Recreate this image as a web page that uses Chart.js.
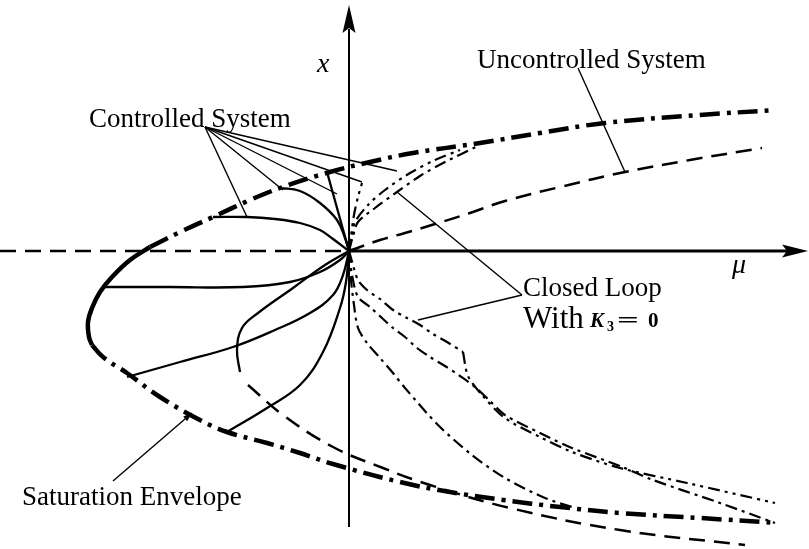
<!DOCTYPE html>
<html>
<head>
<meta charset="utf-8">
<title>Saturation envelope and controlled bifurcation</title>
<script src="https://cdn.jsdelivr.net/npm/chart.js@4/dist/chart.umd.min.js"></script>
<style>
  html, body { margin: 0; padding: 0; background: #fff; }
  #wrap { width: 809px; height: 549px; }
</style>
</head>
<body>
<div id="wrap"><canvas id="c" width="809" height="549"></canvas></div>
<script>
// Plane (mu, x). Plot window in mu/x units.
const MU_RANGE = [-3.49, 4.60];
const X_RANGE = [-2.98, 2.51];

// Saturation envelope: thick solid nose, dash-dot branches
const envelopeUpper = [[-1.99,0.04],[-1.69,0.19],[-1.36,0.34],[-0.99,0.51],[-0.69,0.63],[-0.19,0.79],[0.21,0.89],[0.64,0.98],[1.31,1.08],[1.91,1.18],[2.56,1.28],[3.51,1.36],[4.26,1.41]];
const envelopeNose = [[-1.99,0.04],[-2.19,-0.09],[-2.37,-0.26],[-2.49,-0.41],[-2.57,-0.57],[-2.61,-0.71],[-2.60,-0.86],[-2.57,-0.94]];
const envelopeLower = [[-2.57,-0.94],[-2.46,-1.06],[-2.22,-1.22],[-1.89,-1.46],[-1.49,-1.69],[-1.22,-1.81],[-0.82,-1.92],[-0.49,-2.02],[-0.16,-2.13],[0.51,-2.31],[1.01,-2.41],[1.54,-2.49],[2.11,-2.56],[2.71,-2.62],[3.51,-2.67],[4.28,-2.72]];

// Uncontrolled system (dashed)
const uncontrolledLeft = [[-3.49,0],[0,0]];
const uncontrolledUpper = [[0,0],[0.11,0.04],[0.31,0.11],[0.56,0.18],[0.86,0.27],[1.21,0.38],[1.56,0.50],[2.11,0.64],[2.76,0.79],[3.41,0.91],[4.13,1.03]];
const uncontrolledLower = [[-1.01,-1.34],[-0.66,-1.64],[-0.16,-1.96],[0.34,-2.17],[0.81,-2.34],[1.61,-2.57],[2.71,-2.79],[3.96,-2.94]];

// Controlled system trajectories (solid), all ending at the origin
const ctrlA = [[-1.36,0.34],[-1.02,0.34],[-0.74,0.32],[-0.49,0.28],[-0.29,0.21],[-0.16,0.12],[0,0]];
const ctrlB = [[-0.69,0.63],[-0.49,0.60],[-0.29,0.48],[-0.12,0.31],[-0.04,0.13],[0,0]];
const ctrlD = [[-0.22,0.79],[0,0]];
const ctrlE = [[-2.46,-0.36],[-1.79,-0.36],[-1.06,-0.36],[-0.59,-0.31],[-0.29,-0.21],[-0.09,-0.09],[0,0]];
const ctrlF = [[-2.22,-1.26],[-1.69,-1.11],[-1.16,-0.96],[-0.74,-0.79],[-0.39,-0.62],[-0.16,-0.44],[-0.06,-0.24],[0,0]];
const ctrlG = [[-1.09,-1.21],[-1.12,-0.99],[-1.07,-0.77],[-0.91,-0.62],[-0.56,-0.37],[-0.24,-0.14],[0,0]];
const ctrlH = [[-1.22,-1.81],[-0.82,-1.57],[-0.49,-1.34],[-0.26,-1.01],[-0.09,-0.57],[-0.03,-0.31],[0,0]];

// Closed loop with K3 = 0
const loopL1a = [[0,0],[0.04,-0.14],[0.09,-0.29],[0.18,-0.39],[0.31,-0.48],[0.44,-0.59],[0.58,-0.67],[0.71,-0.74],[0.84,-0.83],[0.98,-0.91],[1.14,-1.01]];
const loopL1b = [[1.14,-1.01],[1.19,-1.25],[1.33,-1.44],[1.56,-1.67],[1.91,-1.86],[2.23,-2.01],[2.71,-2.17],[3.38,-2.32],[4.26,-2.52]];
const loopL2 = [[0,0],[0.03,-0.24],[0.09,-0.46],[0.21,-0.56],[0.33,-0.67],[0.44,-0.77],[0.56,-0.86],[0.68,-0.97],[0.81,-1.06],[0.96,-1.15],[1.11,-1.25],[1.26,-1.36],[1.41,-1.50],[1.56,-1.64],[1.91,-1.82],[2.23,-1.97],[2.71,-2.15],[3.04,-2.29],[3.71,-2.52],[4.26,-2.72]];
const loopL3 = [[0,0],[0.02,-0.29],[0.05,-0.54],[0.09,-0.77],[0.18,-0.92],[0.31,-1.07],[0.44,-1.22],[0.56,-1.37],[0.89,-1.74],[1.23,-2.04],[1.56,-2.27],[1.96,-2.47],[2.26,-2.57]];
const loopUa = [[0,0],[0.03,0.16],[0.06,0.29],[0.19,0.46],[0.36,0.61],[0.61,0.78],[0.86,0.91],[1.11,1.01]];
const loopUb = [[0,0],[0.04,0.15],[0.09,0.29],[0.26,0.43],[0.48,0.59],[0.71,0.75],[0.96,0.89],[1.29,1.05]];
const loopUc = [[0,0],[0.02,0.15],[0.05,0.36],[0.09,0.54],[0.13,0.68]];

// Axes
const muAxis = [[0,0],[4.38,0]];
const xAxis = [[0,-2.76],[0,2.22]];
const muArrowTip = [4.59, 0];
const xArrowTip = [0, 2.46];

// Label leaders
const ctrlLeaderFrom = [-1.44,1.24];
const ctrlLeaderTo = [[-1.02,0.34],[-0.66,0.61],[-0.12,0.57],[0.13,0.69],[0.48,0.80]];
const uncLeader = [[2.29,1.83],[2.76,0.79]];
const loopLeaderFrom = [1.73,-0.44];
const loopLeaderTo = [[0.48,0.59],[0.69,-0.69]];
const satLeader = [[-2.36,-2.30],[-1.57,-1.62]];

// Text labels: [text, mu, x, font, horizontal stretch]
const labels = [
  ['Controlled System', -2.60, 1.24, '27px "Liberation Serif", serif', 1],
  ['Uncontrolled System', 1.28, 1.83, '27px "Liberation Serif", serif', 1],
  ['Closed Loop', 1.74, -0.45, '27px "Liberation Serif", serif', 1],
  ['With', 1.74, -0.77, '31px "Liberation Serif", serif', 1],
  ['Saturation Envelope', -3.27, -2.54, '27px "Liberation Serif", serif', 1],
  ['x', -0.32, 1.79, 'italic 28px "Liberation Serif", serif', 1],
  ['\u03bc', 3.83, -0.22, 'italic 28px "Liberation Serif", serif', 1]
];
// K3 = 0 pieces
const gainParts = [
  ['K', 2.41, -0.76, 'bold italic 21px "Liberation Serif", serif', 1],
  ['3', 2.58, -0.80, 'bold 14px "Liberation Serif", serif', 1],
  ['=', 2.68, -0.755, 'bold 22px "Liberation Serif", serif', 1.75],
  ['0', 2.99, -0.76, 'bold 21px "Liberation Serif", serif', 1]
];

const pts = a => a.map(([x, y]) => ({ x, y }));
const BLACK = '#000';
const DASH = [16, 9];
const DASH_DOT = [12, 5, 3, 5];
const DASH_DOT_DOT = [12, 5, 3, 5, 3, 5];
const ENV_DASH = [20, 7, 4, 7];

function line(data, width, dash, tension) {
  return {
    data: pts(data), showLine: true, borderColor: BLACK, backgroundColor: BLACK,
    borderWidth: width, borderDash: dash || [], tension: tension || 0,
    pointRadius: 0, pointHoverRadius: 0, fill: false
  };
}

const datasets = [
  line(muAxis, 3), line(xAxis, 2),
  line(envelopeUpper, 4.5, ENV_DASH, 0.4),
  line(envelopeNose, 4.5, [], 0.4),
  line(envelopeLower, 4.5, ENV_DASH, 0.4),
  line(uncontrolledLeft, 2.5, DASH),
  line(uncontrolledUpper, 2.5, DASH, 0.4),
  line(uncontrolledLower, 2.5, DASH, 0.4),
  line(ctrlA, 2.3, [], 0.4), line(ctrlB, 2.3, [], 0.4), line(ctrlD, 2.3),
  line(ctrlE, 2.3, [], 0.4), line(ctrlF, 2.3, [], 0.4), line(ctrlG, 2.3, [], 0.4), line(ctrlH, 2.3, [], 0.4),
  line(loopL1a, 2.2, DASH_DOT_DOT, 0.3), line(loopL1b, 2.2, DASH_DOT_DOT, 0.3),
  line(loopL2, 2.2, DASH_DOT, 0.3), line(loopL3, 2.2, DASH_DOT, 0.3),
  line(loopUa, 2.2, DASH_DOT_DOT, 0.3), line(loopUb, 2.2, DASH_DOT, 0.3), line(loopUc, 2.2, DASH_DOT_DOT, 0.3)
];
ctrlLeaderTo.forEach(p => datasets.push(line([ctrlLeaderFrom, p], 1.4)));
loopLeaderTo.forEach(p => datasets.push(line([loopLeaderFrom, p], 1.4)));
datasets.push(line(uncLeader, 1.4));
datasets.push(line(satLeader, 1.4));

// Arrowheads and text, placed through the chart scales
const annotate = {
  id: 'annotate',
  afterDatasetsDraw(chart) {
    const { ctx } = chart;
    const sx = chart.scales.x, sy = chart.scales.y;
    const px = v => sx.getPixelForValue(v), py = v => sy.getPixelForValue(v);
    ctx.save();
    ctx.fillStyle = BLACK;
    // arrow heads on the axes
    let tx = px(muArrowTip[0]), ty = py(muArrowTip[1]);
    ctx.beginPath();
    ctx.moveTo(tx, ty); ctx.lineTo(tx - 26, ty - 6.5); ctx.lineTo(tx - 21, ty); ctx.lineTo(tx - 26, ty + 6.5);
    ctx.closePath(); ctx.fill();
    tx = px(xArrowTip[0]); ty = py(xArrowTip[1]);
    ctx.beginPath();
    ctx.moveTo(tx, ty); ctx.lineTo(tx - 6.5, ty + 28); ctx.lineTo(tx, ty + 23); ctx.lineTo(tx + 6.5, ty + 28);
    ctx.closePath(); ctx.fill();
    // small arrow head at the envelope leader
    const a = satLeader[0], b = satLeader[1];
    const ax = px(a[0]), ay = py(a[1]), bx = px(b[0]), by = py(b[1]);
    const ang = Math.atan2(by - ay, bx - ax);
    ctx.beginPath();
    ctx.moveTo(bx, by);
    ctx.lineTo(bx - 9 * Math.cos(ang) + 3 * Math.sin(ang), by - 9 * Math.sin(ang) - 3 * Math.cos(ang));
    ctx.lineTo(bx - 9 * Math.cos(ang) - 3 * Math.sin(ang), by - 9 * Math.sin(ang) + 3 * Math.cos(ang));
    ctx.closePath(); ctx.fill();
    // text
    ctx.textBaseline = 'alphabetic';
    ctx.textAlign = 'left';
    labels.concat(gainParts).forEach(([t, m, x, f, stretch]) => {
      ctx.save();
      ctx.font = f;
      ctx.translate(px(m), py(x));
      ctx.scale(stretch, 1);
      ctx.fillText(t, 0, 0);
      ctx.restore();
    });
    ctx.restore();
  }
};

new Chart(document.getElementById('c'), {
  type: 'scatter',
  data: { datasets },
  options: {
    responsive: false,
    animation: false,
    events: [],
    layout: { padding: 0 },
    plugins: { legend: { display: false }, tooltip: { enabled: false } },
    scales: {
      x: { type: 'linear', min: MU_RANGE[0], max: MU_RANGE[1], display: false },
      y: { type: 'linear', min: X_RANGE[0], max: X_RANGE[1], display: false }
    }
  },
  plugins: [annotate]
});
</script>
</body>
</html>
